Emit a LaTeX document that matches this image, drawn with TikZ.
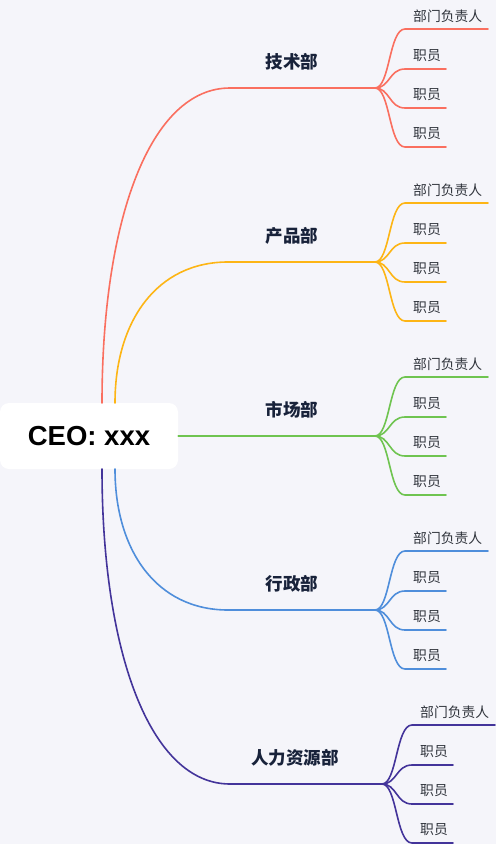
\documentclass[tikz,border=0pt]{standalone}
\usepackage{fontspec}
\setmainfont{Liberation Sans}
\newfontfamily\cjk{Noto Sans CJK SC}
\definecolor{bg}{HTML}{F5F5FA}
\definecolor{cred}{HTML}{FA6F5F}
\definecolor{corange}{HTML}{FDB515}
\definecolor{cgreen}{HTML}{6FC450}
\definecolor{cblue}{HTML}{4F8EDB}
\definecolor{cpurple}{HTML}{43349A}
\definecolor{deptc}{HTML}{18223A}
\definecolor{leafc}{HTML}{30343C}
\begin{document}
\begin{tikzpicture}[x=1pt,y=-1pt,
  ceobox/.style={fill=white,rounded corners=9pt,minimum width=178pt,minimum height=66pt,inner sep=0pt,font=\fontsize{27.5}{30}\selectfont\bfseries},
  dept/.style={font=\cjk\bfseries\fontsize{17.5}{20}\selectfont,text=deptc,inner sep=0pt},
  leaf/.style={font=\cjk\fontsize{13.8}{16}\selectfont,text=leafc,inner sep=0pt,anchor=west},
  link/.style={line width=1.6pt,line cap=round}]
\fill[bg] (0,0) rectangle (496,844);
\useasboundingbox (0,0) rectangle (496,844);
\node[ceobox] (ceo) at (89,436) {CEO: xxx};
% start points on the CEO box
\coordinate (s1) at (102,403);
\coordinate (s2) at (115,403);
\coordinate (s3) at (ceo.east);
\coordinate (s4) at (115,469);
\coordinate (s5) at (102,469);
% department line starts
\coordinate (d1) at (230,88);
\coordinate (d2) at (228,262);
\coordinate (d4) at (228,610);
\coordinate (d5) at (230,784);
\foreach \i/\y/\name/\col/\dx in {1/88/技术部/cred/0, 2/262/产品部/corange/0, 3/436/市场部/cgreen/0, 4/610/行政部/cblue/0, 5/784/人力资源部/cpurple/7}{
  \coordinate (j\i) at (375+\dx,\y);
  \node[dept] (n\i) at (292+0.4*\dx,\y-26.5) {\name};
  \foreach \k/\o/\len/\txt in {1/-59/83/部门负责人, 2/-19/41/职员, 3/20/41/职员, 4/59/41/职员}{
    \coordinate (a\i\k) at (405+\dx,\y+\o);
    \coordinate (b\i\k) at (405+\dx+\len,\y+\o);
    \node[leaf] (t\i\k) at (413+\dx,\y+\o-13) {\txt};
    \draw[link,\col] (j\i) .. controls (390+\dx,\y) and (389+\dx,\y+\o) .. (a\i\k) -- (b\i\k);
  }
}
\draw[link,cred] (s1) .. controls (102,220) and (150,88) .. (d1) -- (j1);
\draw[link,corange] (s2) .. controls (115,321) and (157,262) .. (d2) -- (j2);
\draw[link,cgreen] (s3) -- (j3);
\draw[link,cblue] (s4) .. controls (115,551) and (157,610) .. (d4) -- (j4);
\draw[link,cpurple] (s5) .. controls (102,652) and (150,784) .. (d5) -- (j5);
\end{tikzpicture}
\end{document}
